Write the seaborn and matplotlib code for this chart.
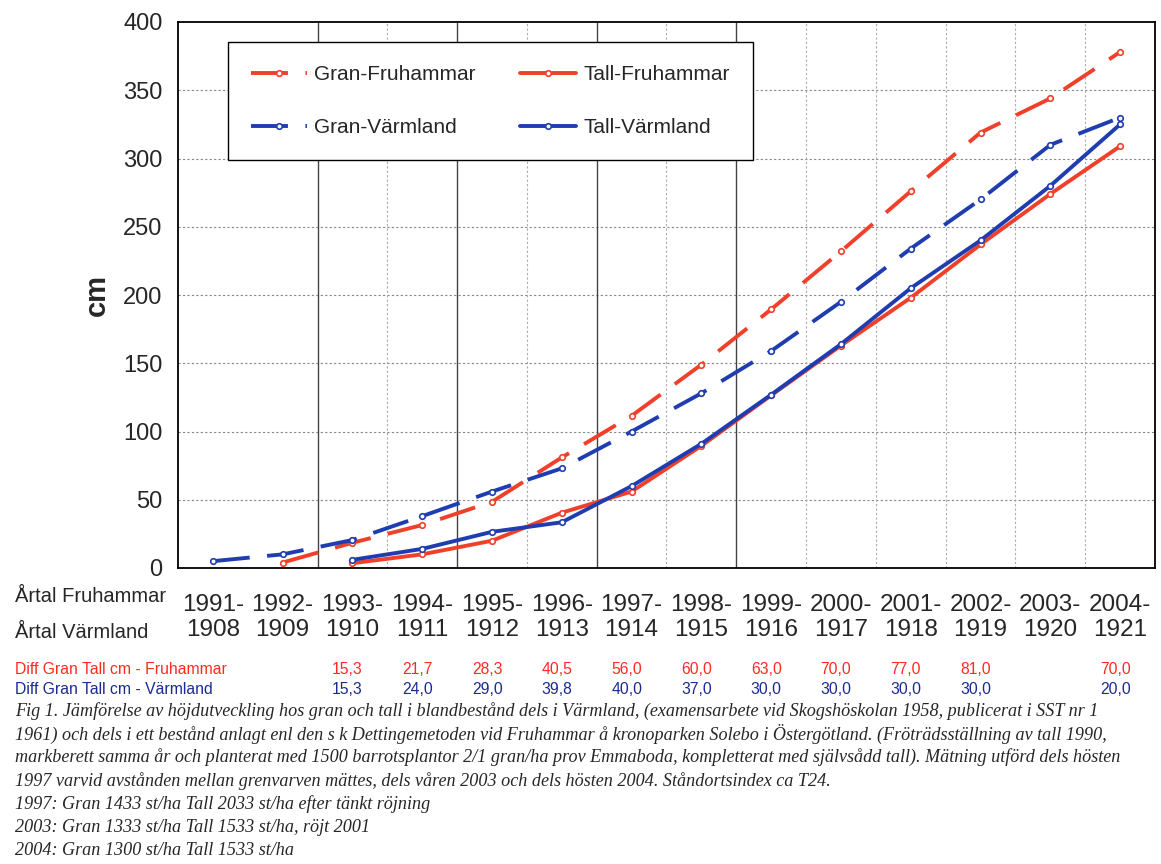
import numpy as np
import pandas as pd
import matplotlib
matplotlib.use('Agg')
import matplotlib.pyplot as plt
import matplotlib.transforms as mtransforms
import seaborn as sns

# Data
fruhammar_years = ['1991-', '1992-', '1993-', '1994-', '1995-', '1996-', '1997-',
                   '1998-', '1999-', '2000-', '2001-', '2002-', '2003-', '2004-']
varmland_years = ['1908', '1909', '1910', '1911', '1912', '1913', '1914',
                  '1915', '1916', '1917', '1918', '1919', '1920', '1921']

gran_fruhammar = [np.nan, 4, 18.5, 31.5, 48.5, 81, 111.5, 149, 189.5, 232, 276, 319, 344, 378]
tall_fruhammar = [np.nan, np.nan, 3.5, 10, 20, 40.5, 56, 89.5, 126.5, 163, 198, 237, 274, 309]
gran_varmland = [5, 10, 20.5, 38, 56, 73, 100, 128, 159, 195, 234, 270, 310, 330]
tall_varmland = [np.nan, np.nan, 6, 14, 26.5, 33.5, 60, 91, 127, 164, 205, 240, 280, 325]

diff_positions = [2, 3, 4, 5, 6, 7, 8, 9, 10, 11, 13]
diff_fruhammar = ['15,3', '21,7', '28,3', '40,5', '56,0', '60,0', '63,0', '70,0', '77,0', '81,0', '70,0']
diff_varmland = ['15,3', '24,0', '29,0', '39,8', '40,0', '37,0', '30,0', '30,0', '30,0', '30,0', '20,0']

caption_lines = [
    'Fig 1. Jämförelse av höjdutveckling hos gran och tall i blandbestånd dels i Värmland, (examensarbete vid Skogshöskolan 1958, publicerat i SST nr 1',
    '1961) och dels i ett bestånd anlagt enl den s k Dettingemetoden vid Fruhammar å kronoparken Solebo i Östergötland. (Fröträdsställning av tall 1990,',
    'markberett samma år och planterat med 1500 barrotsplantor 2/1 gran/ha prov Emmaboda, kompletterat med självsådd tall). Mätning utförd dels hösten',
    '1997 varvid avstånden mellan grenvarven mättes, dels våren 2003 och dels hösten 2004. Ståndortsindex ca T24.',
    '1997: Gran 1433 st/ha Tall 2033 st/ha efter tänkt röjning',
    '2003: Gran 1333 st/ha Tall 1533 st/ha, röjt 2001',
    '2004: Gran 1300 st/ha Tall 1533 st/ha',
]

RED = '#f0402a'
BLUE = '#1f3db0'

sns.set_style('white')
plt.rcParams['font.family'] = ['Liberation Sans', 'DejaVu Sans']

fig = plt.figure(figsize=(11.61, 8.64), dpi=100)
ax = fig.add_axes([178 / 1161, 1 - 568 / 864, (1155 - 178) / 1161, (568 - 22) / 864])

x = np.arange(len(fruhammar_years))
series = [
    ('Gran-Fruhammar', gran_fruhammar, RED, True),
    ('Gran-Värmland', gran_varmland, BLUE, True),
    ('Tall-Fruhammar', tall_fruhammar, RED, False),
    ('Tall-Värmland', tall_varmland, BLUE, False),
]
for name, vals, col, dashed in series:
    df = pd.DataFrame({'x': x, 'y': vals}).dropna()
    sns.lineplot(data=df, x='x', y='y', ax=ax, color=col, lw=2.8, marker='o', ms=4,
                 mfc='white', mec=col, mew=1.2, label=name, legend=False)
    line = ax.lines[-1]
    if dashed:
        line.set_dashes((9.5, 4.5))

ax.set_xlim(-0.5, 13.5)
ax.set_ylim(0, 400)
ax.set_yticks(range(0, 401, 50))
ax.set_xticks(x)
ax.set_xticklabels([f'{a}\n{b}' for a, b in zip(fruhammar_years, varmland_years)],
                   fontsize=17.5, linespacing=1.15)
ax.set_xticks(np.arange(0.5, 13.5, 1), minor=True)
ax.tick_params(axis='x', which='major', length=0, pad=19)
ax.tick_params(axis='x', which='minor', length=6, width=1, color='black', direction='out')
ax.tick_params(axis='y', length=5, width=1, color='black', direction='out', labelsize=17, pad=6)
ax.set_xlabel('')
ax.set_ylabel('cm', fontsize=21, fontweight='bold', labelpad=9)

for v in range(50, 400, 50):
    ax.axhline(v, color='#888888', lw=0.8, ls=(0, (2, 2)), zorder=0)
for b in np.arange(1.5, 13, 1):
    if b in (1.5, 3.5, 5.5, 7.5):
        ax.axvline(b, color='#444444', lw=1.0, zorder=0)
    else:
        ax.axvline(b, color='#aaaaaa', lw=0.8, ls=(0, (2, 2)), zorder=0)

for s in ax.spines.values():
    s.set_color('black')
    s.set_linewidth(1.3)

handles = ax.lines[:4]
leg = ax.legend(handles, [h.get_label() for h in handles], ncol=2, loc='upper left',
                bbox_to_anchor=((228 - 178) / 977, (568 - 42) / 546),
                fontsize=15, frameon=True, fancybox=False, edgecolor='black',
                framealpha=1, borderpad=1.1, labelspacing=1.65, handlelength=2.7,
                handletextpad=0.35, columnspacing=2.1, borderaxespad=0)
leg.get_frame().set_linewidth(1.0)

fig.text(15 / 1161, 1 - 597 / 864, 'Årtal Fruhammar', fontsize=14.5, va='center')
fig.text(15 / 1161, 1 - 632 / 864, 'Årtal Värmland', fontsize=14.5, va='center')

fig.text(15 / 1161, 1 - 670 / 864, 'Diff Gran Tall cm - Fruhammar', fontsize=11.3,
         color='#ff2a20', va='center')
fig.text(15 / 1161, 1 - 690 / 864, 'Diff Gran Tall cm - Värmland', fontsize=11.3,
         color='#1a2a90', va='center')
trans = mtransforms.blended_transform_factory(ax.transData, fig.transFigure)
for p, a, b in zip(diff_positions, diff_fruhammar, diff_varmland):
    ax.text(p - 0.07, 1 - 670 / 864, a, transform=trans, fontsize=11.3,
            color='#ff2a20', ha='center', va='center')
    ax.text(p - 0.07, 1 - 690 / 864, b, transform=trans, fontsize=11.3,
            color='#1a2a90', ha='center', va='center')

for i, line in enumerate(caption_lines):
    fig.text(15 / 1161, 1 - (711 + 23.2 * i) / 864, line, fontsize=13.1,
             family=['Liberation Serif', 'DejaVu Serif'], style='italic', va='center')

fig.savefig('out.png', dpi=100)
